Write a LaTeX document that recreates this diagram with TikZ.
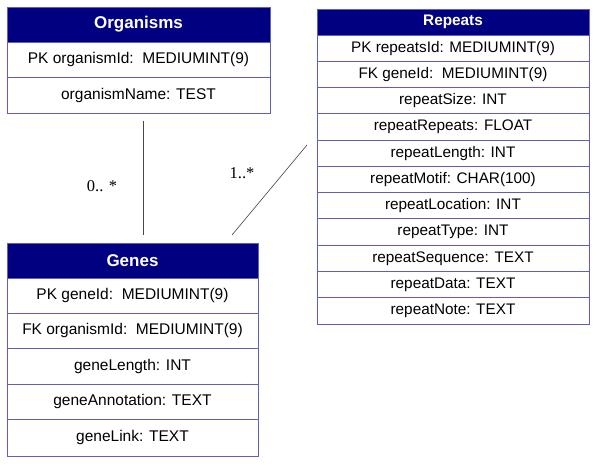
\documentclass[tikz,border=0pt]{standalone}
\usepackage{fontspec}
\setmainfont{Liberation Sans}
\newfontfamily\serifface{Liberation Serif}
\definecolor{hdr}{RGB}{0,0,128}
\definecolor{bord}{RGB}{95,95,195}
\definecolor{linkc}{RGB}{70,70,70}
\begin{document}
\begin{tikzpicture}[x=1pt,y=-1pt,
  hdrbox/.style={draw=bord, fill=hdr, text=white, inner sep=0pt, line width=0.9pt},
  rowbox/.style={draw=bord, fill=white, text=black, inner sep=0pt, line width=0.9pt},
  bigfont/.style={font=\fontsize{15.5}{17}\selectfont},
  smallfont/.style={font=\fontsize{15.3}{17}\selectfont},
  link/.style={draw=linkc, line width=0.6pt},
  mult/.style={font=\serifface\fontsize{16.5}{18}\selectfont, inner sep=0pt}]
\useasboundingbox (0,0) rectangle (600,465);
\fill[white] (0,0) rectangle (600,465);

% Organisms
\node[hdrbox, minimum width=263pt, minimum height=35pt, font=\bfseries\fontsize{17}{19}\selectfont] (orgh) at (138.5,24.5) {Organisms};
\node[rowbox, bigfont, minimum width=263pt, minimum height=35pt] (org1) at (138.5,59.5) {PK organismId:\ \ MEDIUMINT(9)};
\node[rowbox, bigfont, minimum width=263pt, minimum height=36pt] (org2) at (138.5,95) {organismName: TEST};

% Genes
\node[hdrbox, minimum width=251pt, minimum height=35pt, font=\bfseries\fontsize{17}{19}\selectfont] (genh) at (132.5,260.5) {Genes};
\node[rowbox, bigfont, minimum width=251pt, minimum height=35pt] (gen1) at (132.5,295.5) {PK geneId:\ \ MEDIUMINT(9)};
\node[rowbox, bigfont, minimum width=251pt, minimum height=35pt] (gen2) at (132.5,330.5) {FK organismId:\ \ MEDIUMINT(9)};
\node[rowbox, bigfont, minimum width=251pt, minimum height=36pt] (gen3) at (132.5,366) {geneLength: INT};
\node[rowbox, bigfont, minimum width=251pt, minimum height=35pt] (gen4) at (132.5,401.5) {geneAnnotation: TEXT};
\node[rowbox, bigfont, minimum width=251pt, minimum height=37pt] (gen5) at (132.5,437.5) {geneLink: TEXT};

% Repeats
\node[hdrbox, minimum width=272pt, minimum height=26pt, font=\bfseries\fontsize{15.3}{17}\selectfont] (reph) at (453,22) {Repeats};
\foreach \i/\t in {1/{PK repeatsId: MEDIUMINT(9)},
                   2/{FK geneId:\ \ MEDIUMINT(9)},
                   3/{repeatSize: INT},
                   4/{repeatRepeats: FLOAT},
                   5/{repeatLength: INT},
                   6/{repeatMotif: CHAR(100)},
                   7/{repeatLocation: INT},
                   8/{repeatType: INT},
                   9/{repeatSequence: TEXT},
                   10/{repeatData: TEXT},
                   11/{repeatNote: TEXT}}
  \node[rowbox, smallfont, minimum width=272pt, minimum height=26.3pt] (rep\i) at (453,{35+(\i-0.5)*26.27}) {\t};

% Connectors
\coordinate (a1) at (143,121);
\coordinate (a2) at (143,235);
\coordinate (b1) at (307,145);
\coordinate (b2) at (232,235);
\draw[link] (a1) -- (a2);
\draw[link] (b1) -- (b2);
\node[mult] (m1) at (102,186) {0.. *};
\node[mult] (m2) at (242,173) {1..*};
\end{tikzpicture}
\end{document}
